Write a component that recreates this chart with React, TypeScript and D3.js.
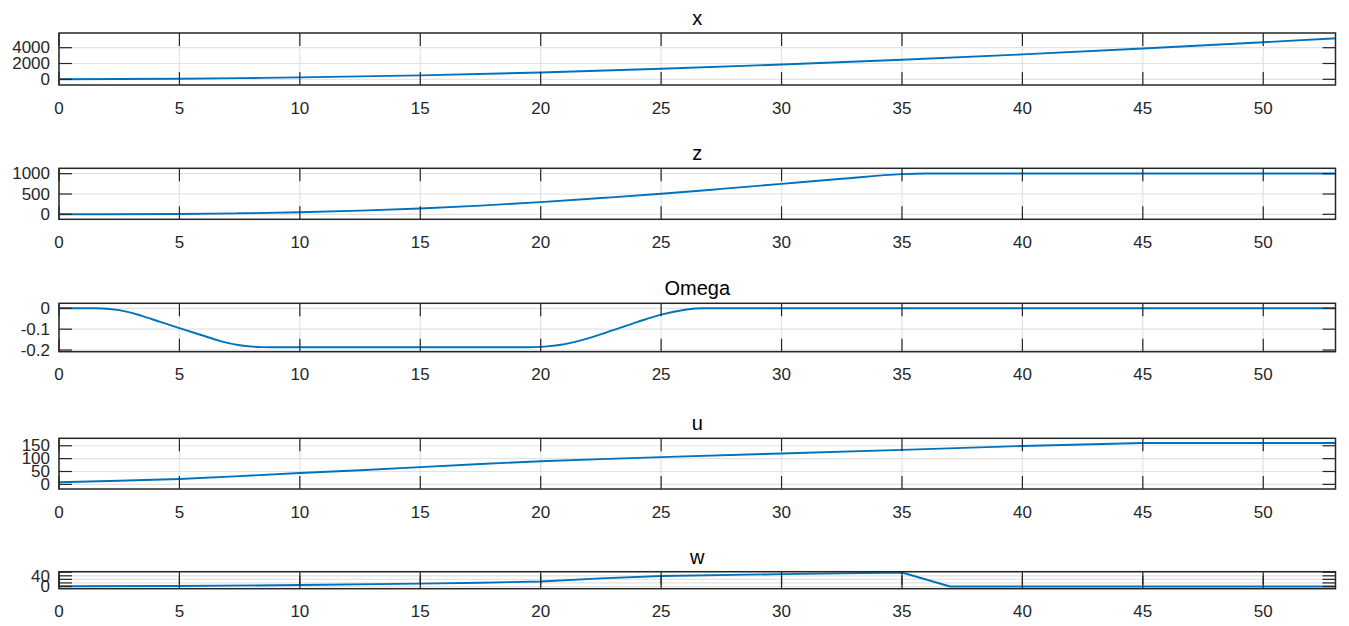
import * as React from "react";
import * as d3 from "d3";

// x position
const xTime = [0, 2.5, 5, 7.5, 10, 15, 20, 25, 30, 35, 40, 45, 50, 53];
const xVals = [0, 30, 80, 150, 240, 500, 870, 1330, 1870, 2470, 3150, 3900, 4690, 5180];

// z position
const zTime = [0, 5, 7.5, 10, 12.5, 15, 17.5, 20, 22.5, 25, 27.5, 30, 32.5, 35, 36, 53];
const zVals = [0, 8, 25, 50, 90, 143, 215, 300, 400, 505, 625, 750, 875, 990, 1005, 1005];

// Omega
const omTime = [0, 1.5, 2.5, 3.4, 4.2, 5, 5.9, 6.7, 7.5, 8.4, 9.2, 19.5, 20, 21, 22, 23, 24, 25, 26, 26.8, 53];
const omVals = [0, 0, -0.009, -0.035, -0.065, -0.095, -0.128, -0.157, -0.177, -0.186, -0.187, -0.187, -0.185, -0.172, -0.143, -0.105, -0.066, -0.03, -0.007, 0, 0];

// u
const uTime = [0, 2.5, 5, 7.5, 10, 12.5, 15, 17.5, 20, 22.5, 25, 30, 35, 40, 45, 53];
const uVals = [8, 14, 21, 32, 44, 55, 67, 79, 90, 98, 106, 120, 134, 149, 161, 161];

// w
const wTime = [0, 5, 10, 15, 17.5, 20, 22.5, 25, 30, 35, 37, 53];
const wVals = [1, 2, 6, 12, 16, 21, 34, 44, 52, 59, 0, 0];

const xTickVals = [0, 5, 10, 15, 20, 25, 30, 35, 40, 45, 50];

const W = 1349;
const H = 626;
const left = 59;
const right = 1335.5;
const FONT = "'Liberation Sans', Arial, Helvetica, sans-serif";
const BOX = "#262626";
const GRID = "#e2e2e2";
const LINE = "#0072BD";
const TICK = 13;

type PanelProps = {
  id: string;
  title: string;
  top: number;
  bottom: number;
  t: number[];
  v: number[];
  yDomain: [number, number];
  yTicks: number[];
  yLabels: number[];
  curve: d3.CurveFactory;
};

const Panel = ({ id, title, top, bottom, t, v, yDomain, yTicks, yLabels, curve }: PanelProps) => {
  const xs = d3.scaleLinear().domain([0, 53]).range([left, right]);
  const ys = d3.scaleLinear().domain(yDomain).range([bottom, top]);
  const pts = t.map((d, i) => [d, v[i]] as [number, number]);
  const line = d3
    .line<[number, number]>()
    .x((d) => xs(d[0]))
    .y((d) => ys(d[1]))
    .curve(curve);

  return (
    <g>
      <defs>
        <clipPath id={"clip-" + id}>
          <rect x={left} y={top} width={right - left} height={bottom - top} />
        </clipPath>
      </defs>
      {/* grid */}
      {xTickVals.map((d) => (
        <line key={"gx" + d} x1={xs(d)} x2={xs(d)} y1={top} y2={bottom} stroke={GRID} strokeWidth={1.2} />
      ))}
      {yTicks.map((d) => (
        <line key={"gy" + d} x1={left} x2={right} y1={ys(d)} y2={ys(d)} stroke={GRID} strokeWidth={1.2} />
      ))}
      {/* data */}
      <path
        d={line(pts) || ""}
        fill="none"
        stroke={LINE}
        strokeWidth={1.9}
        clipPath={`url(#clip-${id})`}
      />
      {/* ticks */}
      {xTickVals.map((d) => (
        <g key={"tx" + d}>
          <line x1={xs(d)} x2={xs(d)} y1={bottom} y2={bottom - TICK} stroke={BOX} strokeWidth={1.2} />
          <line x1={xs(d)} x2={xs(d)} y1={top} y2={top + TICK} stroke={BOX} strokeWidth={1.2} />
          <text
            x={xs(d)}
            y={bottom + 23}
            textAnchor="middle"
            dominantBaseline="central"
            fontFamily={FONT}
            fontSize={17}
            fill="#262626"
          >
            {d}
          </text>
        </g>
      ))}
      {yTicks.map((d) => (
        <g key={"ty" + d}>
          <line x1={left} x2={left + TICK} y1={ys(d)} y2={ys(d)} stroke={BOX} strokeWidth={1.2} />
          <line x1={right} x2={right - TICK} y1={ys(d)} y2={ys(d)} stroke={BOX} strokeWidth={1.2} />
        </g>
      ))}
      {yLabels.map((d) => (
        <text
          key={"ly" + d}
          x={left - 9}
          y={ys(d)}
          textAnchor="end"
          dominantBaseline="central"
          fontFamily={FONT}
          fontSize={17}
          fill="#262626"
        >
          {String(d)}
        </text>
      ))}
      {/* box */}
      <rect x={left} y={top} width={right - left} height={bottom - top} fill="none" stroke={BOX} strokeWidth={1.5} />
      <text
        x={(left + right) / 2}
        y={top - 8}
        textAnchor="middle"
        fontFamily={FONT}
        fontSize={20}
        fill="#000"
      >
        {title}
      </text>
    </g>
  );
};

export default function App() {
  return (
    <svg width={W} height={H} style={{ position: "absolute", left: 0, top: 0, background: "#fff" }}>
      <rect width={W} height={H} fill="#fff" />
      <Panel
        id="x"
        title="x"
        top={33}
        bottom={85}
        t={xTime}
        v={xVals}
        yDomain={[-720, 5860]}
        yTicks={[0, 2000, 4000]}
        yLabels={[0, 2000, 4000]}
        curve={d3.curveMonotoneX}
      />
      <Panel
        id="z"
        title="z"
        top={168.3}
        bottom={219.3}
        t={zTime}
        v={zVals}
        yDomain={[-123, 1133]}
        yTicks={[0, 500, 1000]}
        yLabels={[0, 500, 1000]}
        curve={d3.curveMonotoneX}
      />
      <Panel
        id="om"
        title="Omega"
        top={303.3}
        bottom={351.7}
        t={omTime}
        v={omVals}
        yDomain={[-0.208, 0.024]}
        yTicks={[-0.2, -0.1, 0]}
        yLabels={[-0.2, -0.1, 0]}
        curve={d3.curveMonotoneX}
      />
      <Panel
        id="u"
        title="u"
        top={438.3}
        bottom={489}
        t={uTime}
        v={uVals}
        yDomain={[-18, 179]}
        yTicks={[0, 50, 100, 150]}
        yLabels={[0, 50, 100, 150]}
        curve={d3.curveLinear}
      />
      <Panel
        id="w"
        title="w"
        top={571.7}
        bottom={588.7}
        t={wTime}
        v={wVals}
        yDomain={[-9.3, 62.3]}
        yTicks={[0, 15, 30, 45, 60]}
        yLabels={[0, 40]}
        curve={d3.curveLinear}
      />
    </svg>
  );
}
